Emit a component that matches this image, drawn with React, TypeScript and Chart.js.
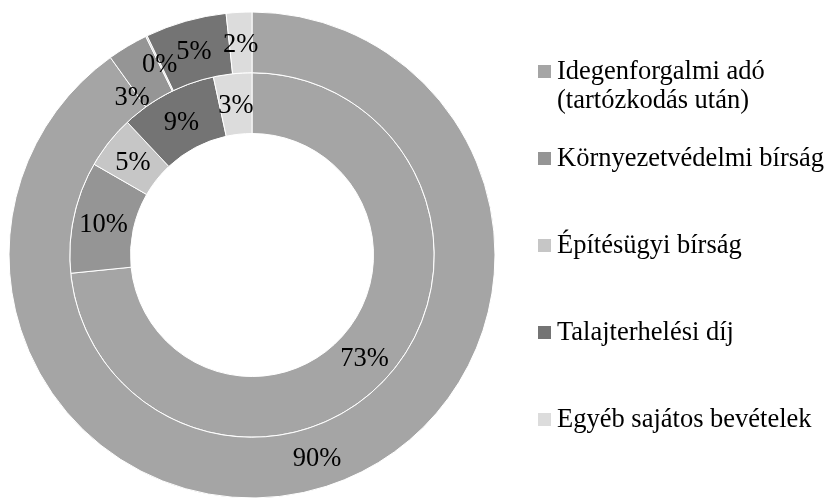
import React, { useEffect, useRef } from "react";
import { Chart, registerables } from "chart.js";

Chart.register(...registerables);

// ---- data ----
const categories = [
  "Idegenforgalmi adó (tartózkodás után)",
  "Környezetvédelmi bírság",
  "Építésügyi bírság",
  "Talajterhelési díj",
  "Egyéb sajátos bevételek",
];
const legendLines = [
  ["Idegenforgalmi adó", "(tartózkodás után)"],
  ["Környezetvédelmi bírság"],
  ["Építésügyi bírság"],
  ["Talajterhelési díj"],
  ["Egyéb sajátos bevételek"],
];
const outerValues = [90.1, 2.7, 0.1, 5.4, 1.7];
const innerValues = [73.4, 9.9, 4.7, 8.6, 3.4];
const colors = ["#a5a5a5", "#959595", "#c6c6c6", "#747474", "#dcdcdc"];

// ---- styles ----
const FONT = "'Liberation Serif', 'Times New Roman', serif";
const FONT_SIZE = 26.5;
const LABEL_DY = 2;
const LABEL_NUDGE: Record<string, [number, number]> = { "0-1": [-11, 24] };
const LEGEND = { squareX: 538, textX: 557, firstBaseline: 79, step: 87, lineHeight: 29, square: 13 };

const labelPlugin = {
  id: "sliceLabels",
  afterDatasetsDraw(chart: any) {
    const ctx = chart.ctx;
    ctx.save();
    ctx.font = `${FONT_SIZE}px ${FONT}`;
    ctx.fillStyle = "#000";
    ctx.textAlign = "center";
    ctx.textBaseline = "middle";
    chart.data.datasets.forEach((ds: any, di: number) => {
      const meta = chart.getDatasetMeta(di);
      meta.data.forEach((arc: any, i: number) => {
        const p = arc.getCenterPoint();
        const n = LABEL_NUDGE[`${di}-${i}`] || [0, 0];
        ctx.fillText(`${Math.round(ds.data[i])}%`, p.x + n[0], p.y + n[1] + LABEL_DY);
      });
    });
    ctx.restore();
  },
};

const legendPlugin = {
  id: "sideLegend",
  afterDraw(chart: any) {
    const ctx = chart.ctx;
    ctx.save();
    ctx.font = `${FONT_SIZE}px ${FONT}`;
    ctx.textAlign = "left";
    ctx.textBaseline = "alphabetic";
    legendLines.forEach((lines, i) => {
      const base = LEGEND.firstBaseline + LEGEND.step * i;
      ctx.fillStyle = colors[i];
      ctx.fillRect(LEGEND.squareX, base - LEGEND.square - 1, LEGEND.square, LEGEND.square);
      ctx.fillStyle = "#000";
      lines.forEach((t, k) => ctx.fillText(t, LEGEND.textX, base + k * LEGEND.lineHeight));
    });
    ctx.restore();
  },
};

export default function App() {
  const ref = useRef<HTMLCanvasElement | null>(null);
  useEffect(() => {
    if (!ref.current) return;
    const chart = new Chart(ref.current, {
      type: "doughnut",
      data: {
        labels: categories,
        datasets: [
          { data: outerValues, backgroundColor: colors, borderColor: "#ffffff", borderWidth: 1 },
          { data: innerValues, backgroundColor: colors, borderColor: "#ffffff", borderWidth: 1 },
        ],
      },
      options: {
        responsive: false,
        animation: false,
        devicePixelRatio: 1,
        cutout: "50%",
        radius: 243,
        layout: { padding: { left: 8.5, top: 11.5, right: 330.5, bottom: 0.5 } },
        plugins: { legend: { display: false }, tooltip: { enabled: false } },
      },
      plugins: [labelPlugin, legendPlugin],
    });
    return () => chart.destroy();
  }, []);
  return (
    <div style={{ position: "fixed", left: 0, top: 0, width: 826, height: 499, background: "#fff" }}>
      <canvas ref={ref} width={826} height={499} style={{ display: "block", width: 826, height: 499 }} />
    </div>
  );
}
